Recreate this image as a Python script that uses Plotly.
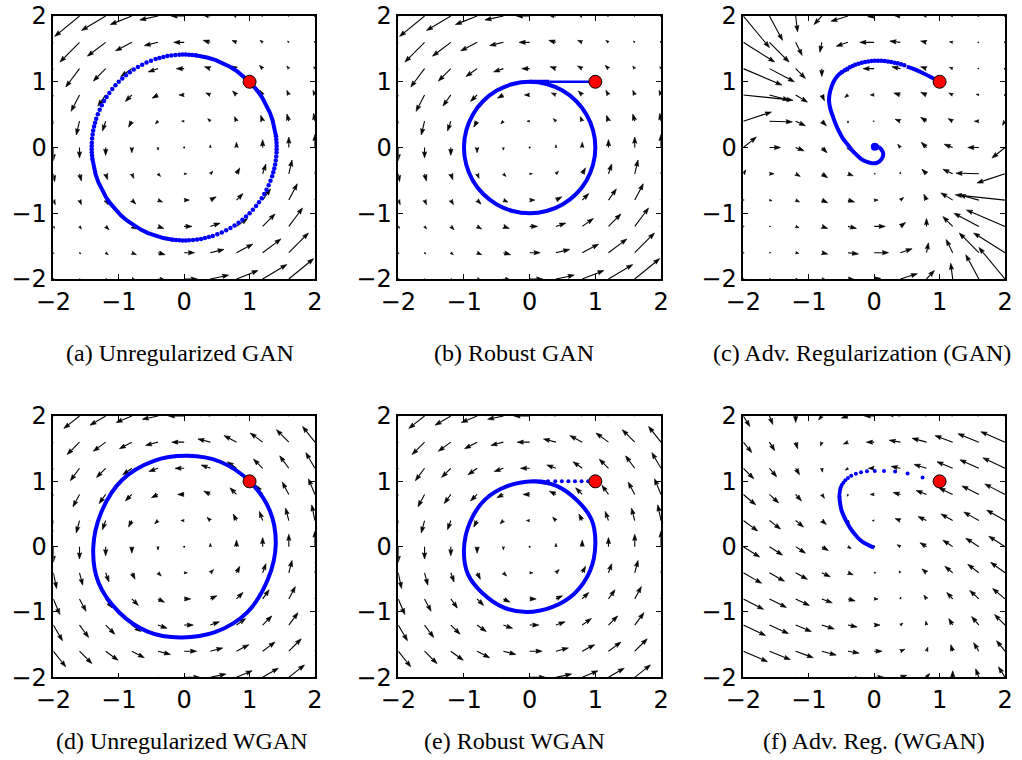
import math
import plotly.graph_objects as go

# ---------------- grid of the vector fields ----------------
GRID_X = [-2.0, -1.6, -1.2, -0.8, -0.4, 0.0, 0.4, 0.8, 1.2, 1.6, 2.0]
GRID_Y = [2.0, 1.6, 1.2, 0.8, 0.4, 0.0, -0.4, -0.8, -1.2, -1.6, -2.0]  # table row order (top -> bottom)

TICK_VALS = [-2, -1, 0, 1, 2]
TICK_TEXT = ["\u22122", "\u22121", "0", "1", "2"]

CAPTIONS = ["(a) Unregularized GAN", "(b) Robust GAN", "(c) Adv. Regularization (GAN)",
            "(d) Unregularized WGAN", "(e) Robust WGAN", "(f) Adv. Reg. (WGAN)"]

# arrow displacements in hundredths of an axis unit (rows follow GRID_Y, columns GRID_X)
GAN_U = [
    [-39, -38, -37, -33, -28, -20, -12, -7, -3, -2, -1],
    [-31, -30, -28, -25, -21, -16, -11, -7, -4, -2, -1],
    [-22, -21, -19, -17, -15, -12, -9, -7, -5, -3, -2],
    [-13, -13, -12, -10, -9, -8, -7, -6, -4, -3, -3],
    [-6, -5, -5, -5, -4, -4, -4, -3, -3, -3, -2],
    [0, 0, 0, 0, 0, 0, 0, 0, 0, 0, 0],
    [2, 3, 3, 3, 4, 4, 4, 5, 5, 5, 6],
    [3, 3, 4, 6, 7, 8, 9, 10, 12, 13, 13],
    [2, 3, 5, 7, 9, 12, 15, 17, 19, 21, 22],
    [1, 2, 4, 7, 11, 16, 21, 25, 28, 30, 31],
    [1, 2, 3, 7, 12, 20, 28, 33, 37, 38, 39],
]
GAN_V = [
    [-39, -31, -22, -13, -6, 0, 2, 3, 2, 1, 1],
    [-38, -30, -21, -13, -5, 0, 3, 3, 3, 2, 2],
    [-37, -28, -19, -12, -5, 0, 3, 4, 5, 4, 3],
    [-33, -25, -17, -10, -5, 0, 3, 6, 7, 7, 7],
    [-28, -21, -15, -9, -4, 0, 4, 7, 9, 11, 12],
    [-20, -16, -12, -8, -4, 0, 4, 8, 12, 16, 20],
    [-12, -11, -9, -7, -4, 0, 4, 9, 15, 21, 28],
    [-7, -7, -7, -6, -3, 0, 5, 10, 17, 25, 33],
    [-3, -4, -5, -4, -3, 0, 5, 12, 19, 28, 37],
    [-2, -2, -3, -3, -3, 0, 5, 13, 21, 30, 38],
    [-1, -1, -2, -3, -2, 0, 6, 13, 22, 31, 39],
]
GANREG_U = [
    [40, 20, 3, -12, -26, -10, -10, -6, -4, -2, -1],
    [48, 30, 10, -3, -18, -22, -16, -9, -5, -2, -1],
    [59, 38, 15, 0, -8, -17, -13, -9, -5, -2, -1],
    [76, 30, 18, 4, -5, -6, -10, -9, -6, -4, 0],
    [43, 35, 15, 7, 0, -2, -8, -9, -7, -7, -4],
    [20, 17, 13, 8, 4, 0, -4, -8, -13, -17, -20],
    [4, 7, 7, 9, 8, 2, 0, -7, -15, -35, -43],
    [0, 4, 6, 9, 10, 6, 5, -4, -18, -30, -76],
    [1, 2, 5, 9, 13, 17, 8, 0, -15, -38, -59],
    [1, 2, 5, 9, 16, 22, 18, 3, -10, -30, -48],
    [1, 2, 4, 6, 10, 10, 26, 12, -3, -20, -40],
]
GANREG_V = [
    [-48, -37, -24, -13, -8, -1, 1, 1, 1, 0, 0],
    [-30, -30, -20, -15, -6, 0, 2, 2, 1, 0, 0],
    [-25, -20, -15, -12, -6, 0, 3, 3, 2, 0, 0],
    [-8, -8, -11, -9, -4, 0, 3, 4, 3, 1, 0],
    [14, -1, -7, -7, -3, 0, 3, 6, 4, 0, -6],
    [16, 0, -5, -8, -5, 0, 5, 8, 5, 0, -16],
    [6, 0, -4, -6, -3, 0, 3, 7, 7, 1, -14],
    [0, -1, -3, -4, -3, 0, 4, 9, 11, 8, 8],
    [0, 0, -2, -3, -3, 0, 6, 12, 15, 20, 25],
    [0, 0, -1, -2, -2, 0, 6, 15, 20, 30, 30],
    [0, 0, -1, -1, -1, 1, 8, 13, 24, 37, 48],
]
WGAN_U = [
    [-24] * 11, [-19] * 11, [-14] * 11, [-10] * 11, [-5] * 11, [0] * 11,
    [5] * 11, [10] * 11, [14] * 11, [19] * 11, [24] * 11,
]
WGAN_V = [[-24, -19, -14, -10, -5, 0, 5, 10, 14, 19, 24] for _ in range(11)]
WGANREG_U = [
    [10, 5, 0, -5, -10, -15, -20, -25, -30, -35, -40],
    [13, 8, 3, -2, -7, -12, -17, -22, -27, -32, -37],
    [16, 11, 6, 1, -4, -9, -14, -19, -24, -29, -34],
    [19, 14, 9, 4, -1, -6, -11, -16, -21, -26, -31],
    [22, 17, 12, 7, 2, -3, -8, -13, -18, -23, -28],
    [25, 20, 15, 10, 5, 0, -5, -10, -15, -20, -25],
    [28, 23, 18, 13, 8, 3, -2, -7, -12, -17, -22],
    [31, 26, 21, 16, 11, 6, 1, -4, -9, -14, -19],
    [34, 29, 24, 19, 14, 9, 4, -1, -6, -11, -16],
    [37, 32, 27, 22, 17, 12, 7, 2, -3, -8, -13],
    [40, 35, 30, 25, 20, 15, 10, 5, 0, -5, -10],
]
WGANREG_V = [[-16, -13, -10, -6, -3, 0, 3, 6, 10, 13, 16] for _ in range(11)]

# ---------------- trajectories ----------------
START_X, START_Y = 1.0, 1.0

# (a) unregularized GAN: points on a circle given by radius and angle (degrees)
A_R = 1.414
A_LINE_ANG = [[45, 50, 55, 60, 65, 70, 75, 80, 83],
              [187, 192, 197, 202, 207, 212, 217, 222, 227, 232, 237, 242, 247, 252, 257, 263],
              [367, 372, 377, 382, 387, 392, 397, 402, 405]]
A_DOT_ANG = [83, 85, 87, 89, 91, 93, 95.5, 98, 100.5, 103, 105.5, 108, 111, 114, 117, 120, 123, 126,
             129, 132, 135, 138, 141, 144, 147, 150, 153, 156, 159, 162, 164.5, 167, 169.5, 172,
             174.5, 177, 179, 181, 183, 185, 187,
             263, 265, 267, 269, 271, 273, 275.5, 278, 280.5, 283, 285.5, 288, 291, 294, 297, 300,
             303, 306, 309, 312, 315, 318, 321, 324, 327, 330, 333, 336, 339, 342, 344.5, 347,
             349.5, 352, 354.5, 357, 359, 361, 363, 365, 367]

# (b) robust GAN
B_THIN_X = [1.0, 0.3]
B_THIN_Y = [1.0, 1.0]
B_THICK_X = [0.3, 0.0]
B_THICK_Y = [1.0, 1.0]
B_R = 1.0
B_ANG = [90, 105, 120, 135, 150, 165, 180, 195, 210, 225, 240, 255, 270, 285, 300, 315, 330,
         345, 360, 375, 390, 405, 420, 435, 450]

# (c) adversarial regularization GAN
C_LINE1_X = [1.0, 0.87, 0.75, 0.62, 0.5]
C_LINE1_Y = [1.0, 1.07, 1.13, 1.19, 1.23]
C_DOT_X = [0.46, 0.41, 0.36, 0.31, 0.26, 0.21, 0.16, 0.11, 0.06, 0.01, -0.04, -0.09, -0.14,
           -0.19, -0.24, -0.29, -0.33, -0.37, -0.41, -0.45, -0.49]
C_DOT_Y = [1.25, 1.265, 1.28, 1.29, 1.30, 1.31, 1.315, 1.32, 1.32, 1.32, 1.315, 1.31, 1.30,
           1.29, 1.275, 1.26, 1.24, 1.22, 1.20, 1.175, 1.15]
C_LINE2_X = [-0.49, -0.55, -0.61, -0.65, -0.68, -0.69, -0.67, -0.63, -0.59, -0.54, -0.48, -0.41,
             -0.34, -0.27, -0.19, -0.11, -0.03, 0.05, 0.11, 0.14, 0.11, 0.06, 0.01]
C_LINE2_Y = [1.15, 1.10, 1.02, 0.93, 0.82, 0.72, 0.59, 0.47, 0.36, 0.25, 0.14, 0.05,
             -0.04, -0.11, -0.18, -0.22, -0.24, -0.23, -0.18, -0.10, -0.03, 0.01, 0.01]

# (d) unregularized WGAN
D_X = [1.0, 0.55, 0.05, -0.47, -0.95, -1.27, -1.39, -1.31, -1.0, -0.56, -0.06, 0.47, 0.96,
       1.28, 1.40, 1.31, 1.0]
D_Y = [1.0, 1.30, 1.39, 1.31, 1.02, 0.52, -0.02, -0.55, -1.0, -1.30, -1.39, -1.31, -1.01,
       -0.50, 0.03, 0.55, 1.0]

# (e) robust WGAN
E_DOT_X = [0.28, 0.39, 0.49, 0.59, 0.69, 0.79, 0.89]
E_DOT_Y = [1.0, 1.0, 1.0, 1.0, 1.0, 1.0, 1.0]
E_X = [0.28, 0.06, -0.33, -0.68, -0.91, -1.0, -0.94, -0.72, -0.40, -0.05, 0.33, 0.68, 0.92,
       1.0, 0.94, 0.72, 0.41, 0.06]
E_Y = [0.98, 1.0, 0.93, 0.72, 0.37, -0.04, -0.42, -0.71, -0.93, -1.0, -0.93, -0.72, -0.37,
       0.04, 0.42, 0.71, 0.93, 1.0]

# (f) adversarial regularization WGAN
F_DOT_X = [0.74, 0.51, 0.32, 0.15, 0.01, -0.11, -0.20, -0.28, -0.35, -0.40, -0.44, -0.47,
           -0.495, -0.51, -0.52, -0.525, -0.53, -0.53]
F_DOT_Y = [1.06, 1.12, 1.15, 1.16, 1.16, 1.155, 1.14, 1.115, 1.085, 1.05, 1.015, 0.98,
           0.945, 0.91, 0.875, 0.84, 0.81, 0.78]
F_LINE_X = [-0.53, -0.53, -0.52, -0.50, -0.46, -0.41, -0.35, -0.27, -0.20, -0.12, -0.04, 0.0]
F_LINE_Y = [0.78, 0.75, 0.66, 0.56, 0.46, 0.36, 0.26, 0.16, 0.09, 0.04, 0.0, -0.01]

# ---------------- layout geometry ----------------
COL_DOM = [[0.0522, 0.3082], [0.3897, 0.6468], [0.7273, 0.9834]]
ROW_DOM = [[0.6329, 0.9789], [0.1088, 0.4526]]
CAP_X = [0.176, 0.503, 0.843, 0.178, 0.503, 0.855]
CAP_Y = [0.5355, 0.0255]

BLUE = "#0000ff"
fig = go.Figure()


def polar_xy(r, angs):
    return ([r * math.cos(math.radians(a)) for a in angs],
            [r * math.sin(math.radians(a)) for a in angs])


def add_field(U, V, xa, ya):
    shx, shy, hdx, hdy, dtx, dty = [], [], [], [], [], []
    HL, HW = 0.095, 0.032
    for r, y0 in enumerate(GRID_Y):
        for c, x0 in enumerate(GRID_X):
            dx, dy = U[r][c] / 100.0, V[r][c] / 100.0
            L = math.hypot(dx, dy)
            if L < 0.02:
                dtx.append(x0)
                dty.append(y0)
                continue
            ux, uy = dx / L, dy / L
            px, py = -uy, ux
            tx, ty = x0 + dx, y0 + dy
            if L < HL:
                hl, hw = L, HW * L / HL
            else:
                hl, hw = HL, HW
                shx += [x0, tx - 0.85 * hl * ux, None]
                shy += [y0, ty - 0.85 * hl * uy, None]
            bx, by = tx - hl * ux, ty - hl * uy
            nx, ny = tx - 0.85 * hl * ux, ty - 0.85 * hl * uy
            hdx += [tx, bx + hw * px, nx, bx - hw * px, tx, None]
            hdy += [ty, by + hw * py, ny, by - hw * py, ty, None]
    fig.add_trace(go.Scatter(x=shx, y=shy, mode="lines", line=dict(color="black", width=1.1),
                             xaxis=xa, yaxis=ya, hoverinfo="skip"))
    fig.add_trace(go.Scatter(x=hdx, y=hdy, mode="lines", fill="toself", fillcolor="black",
                             line=dict(color="black", width=0.6), xaxis=xa, yaxis=ya,
                             hoverinfo="skip"))
    fig.add_trace(go.Scatter(x=dtx, y=dty, mode="markers", marker=dict(color="black", size=2),
                             xaxis=xa, yaxis=ya, hoverinfo="skip"))


def add_line(x, y, xa, ya, width=4, spline=False):
    fig.add_trace(go.Scatter(x=x, y=y, mode="lines",
                             line=dict(color=BLUE, width=width, shape="spline" if spline else "linear"),
                             xaxis=xa, yaxis=ya, hoverinfo="skip"))


def add_dots(x, y, xa, ya, size=4.5):
    fig.add_trace(go.Scatter(x=x, y=y, mode="markers", marker=dict(color=BLUE, size=size, line=dict(width=0)),
                             xaxis=xa, yaxis=ya, hoverinfo="skip"))


def add_start(xa, ya):
    fig.add_trace(go.Scatter(x=[START_X], y=[START_Y], mode="markers",
                             marker=dict(color="red", size=13, line=dict(color="black", width=1)),
                             xaxis=xa, yaxis=ya, hoverinfo="skip"))


AX = [("x", "y"), ("x2", "y2"), ("x3", "y3"), ("x4", "y4"), ("x5", "y5"), ("x6", "y6")]

# (a)
add_field(GAN_U, GAN_V, *AX[0])
for seg in A_LINE_ANG:
    sx, sy = polar_xy(A_R, seg)
    add_line(sx, sy, *AX[0])
ax_, ay_ = polar_xy(A_R, A_DOT_ANG)
add_dots(ax_, ay_, *AX[0])
add_start(*AX[0])

# (b)
add_field(GAN_U, GAN_V, *AX[1])
add_line(B_THIN_X, B_THIN_Y, *AX[1], width=2.5)
add_line(B_THICK_X, B_THICK_Y, *AX[1])
bx_, by_ = polar_xy(B_R, B_ANG)
add_line(bx_, by_, *AX[1], spline=True)
add_start(*AX[1])

# (c)
add_field(GANREG_U, GANREG_V, *AX[2])
add_line(C_LINE1_X, C_LINE1_Y, *AX[2], spline=True)
add_dots(C_DOT_X, C_DOT_Y, *AX[2])
add_line(C_LINE2_X, C_LINE2_Y, *AX[2], spline=True)
add_dots(C_LINE2_X[-1:], C_LINE2_Y[-1:], *AX[2], size=8)
add_start(*AX[2])

# (d)
add_field(WGAN_U, WGAN_V, *AX[3])
add_line(D_X, D_Y, *AX[3], spline=True)
add_start(*AX[3])

# (e)
add_field(WGAN_U, WGAN_V, *AX[4])
add_dots(E_DOT_X, E_DOT_Y, *AX[4], size=4)
add_line(E_X, E_Y, *AX[4], spline=True)
add_start(*AX[4])

# (f)
add_field(WGANREG_U, WGANREG_V, *AX[5])
add_dots(F_DOT_X, F_DOT_Y, *AX[5], size=4)
add_line(F_LINE_X, F_LINE_Y, *AX[5], width=4, spline=True)
add_start(*AX[5])

axis_common = dict(range=[-2, 2], showgrid=False, zeroline=False, showline=True, linecolor="black",
                   linewidth=1.6, mirror="allticks", ticks="inside", ticklen=5, tickwidth=1,
                   tickcolor="black", tickmode="array", tickvals=TICK_VALS, ticktext=TICK_TEXT,
                   tickfont=dict(family="DejaVu Sans", size=24, color="black"), fixedrange=True,
                   automargin=False)

layout = dict(width=1022, height=760, margin=dict(l=0, r=0, t=0, b=0, autoexpand=False),
              paper_bgcolor="white", plot_bgcolor="white", showlegend=False)
for i in range(6):
    row, col = divmod(i, 3)
    sfx = "" if i == 0 else str(i + 1)
    layout["xaxis" + sfx] = dict(axis_common, domain=COL_DOM[col], anchor="y" + sfx)
    layout["yaxis" + sfx] = dict(axis_common, domain=ROW_DOM[row], anchor="x" + sfx)

annotations = []
for i, cap in enumerate(CAPTIONS):
    row = i // 3
    annotations.append(dict(text=cap, x=CAP_X[i], y=CAP_Y[row], xref="paper", yref="paper",
                            xanchor="center", yanchor="middle", showarrow=False,
                            font=dict(family="Liberation Serif", size=24, color="black")))
layout["annotations"] = annotations
fig.update_layout(**layout)

fig.write_html("out.html", config={"displayModeBar": False},
               post_script="document.body.style.margin='0px';")
